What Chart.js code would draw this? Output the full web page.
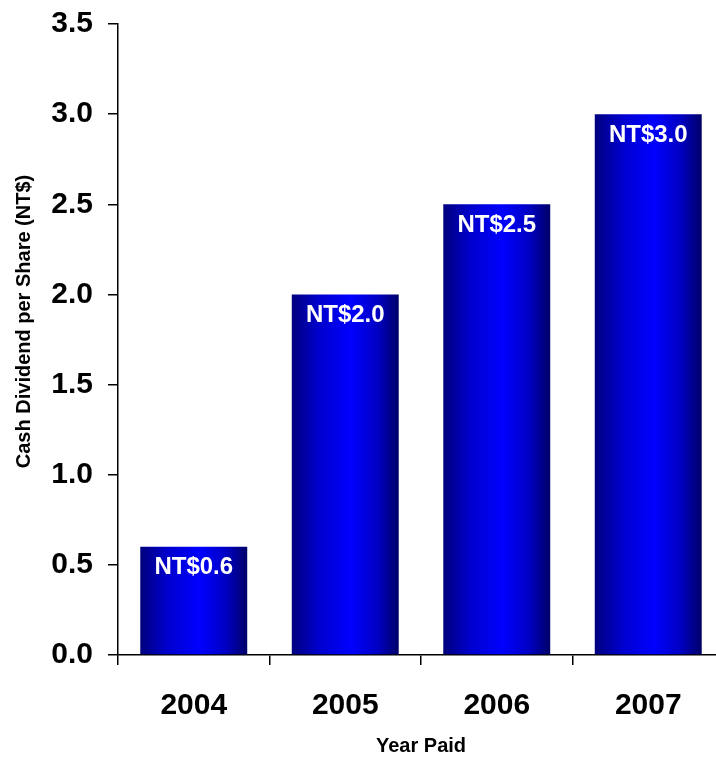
<!DOCTYPE html>
<html>
<head>
<meta charset="utf-8">
<script src="https://cdn.jsdelivr.net/npm/chart.js@4/dist/chart.umd.min.js"></script>
<style>
    html, body { margin: 0; padding: 0; background: #fff; overflow: hidden; }
    #wrap { width: 730px; height: 758px; position: relative; }
</style>
</head>
<body>
<div id="wrap"><canvas id="divChart"></canvas></div>
<script>
// Cash dividend per share (NT$) by year paid
const years = ['2004', '2005', '2006', '2007'];
const dividends = [0.6, 2.0, 2.5, 3.0];
const yMin = 0;
const yMax = 3.5;
const yStep = 0.5;
const yTitle = 'Cash Dividend per Share (NT$)';
const xTitle = 'Year Paid';

const barFrac = 0.706;
const fontFamily = '"Liberation Sans", Arial, Helvetica, sans-serif';

// horizontal navy -> blue -> navy shading on each bar
function barGradient(ctx) {
    const chart = ctx.chart;
    const xs = chart.scales.x;
    if (!xs || ctx.dataIndex === undefined) return '#0000ff';
    const cx = xs.getPixelForValue(ctx.dataIndex);
    const w = (xs.width / years.length) * barFrac;
    if (!Number.isFinite(cx) || !Number.isFinite(w) || w <= 0) return '#0000ff';
    const g = chart.ctx.createLinearGradient(cx - w / 2, 0, cx + w / 2, 0);
    g.addColorStop(0, '#00007e');
    g.addColorStop(0.25, '#0000cc');
    g.addColorStop(0.55, '#0000ff');
    g.addColorStop(0.8, '#0000c4');
    g.addColorStop(1, '#000068');
    return g;
}

// value labels inside the top of each bar + y title (sits a bit above the axis middle)
const barLabels = {
    id: 'barLabels',
    afterDatasetsDraw(chart) {
        const c = chart.ctx;
        const meta = chart.getDatasetMeta(0);
        c.save();
        c.fillStyle = '#ffffff';
        c.font = 'bold 24px ' + fontFamily;
        c.textAlign = 'center';
        c.textBaseline = 'top';
        meta.data.forEach((bar, i) => {
            c.fillText('NT$' + dividends[i].toFixed(1), bar.x, bar.y + 9);
        });
        c.restore();

        const area = chart.chartArea;
        c.save();
        c.translate(24, (area.top + area.bottom) / 2 - 18);
        c.rotate(-Math.PI / 2);
        c.fillStyle = '#000';
        c.font = 'bold 20px ' + fontFamily;
        c.textAlign = 'center';
        c.textBaseline = 'middle';
        c.fillText(yTitle, 0, 0);
        c.restore();
    }
};

function initChart() {
    const ctx = document.getElementById('divChart').getContext('2d');
    const chart = new Chart(ctx, {
        type: 'bar',
        data: {
            labels: years,
            datasets: [{
                data: dividends,
                backgroundColor: barGradient,
                borderWidth: 0,
                categoryPercentage: 1,
                barPercentage: barFrac
            }]
        },
        options: {
            responsive: true,
            maintainAspectRatio: false,
            animation: false,
            layout: { padding: { left: 0, right: 6, top: 24, bottom: 0 } },
            plugins: {
                legend: { display: false },
                tooltip: { enabled: false }
            },
            scales: {
                x: {
                    afterFit(scale) { scale.height = 103; },
                    border: { color: '#000', width: 1.5 },
                    grid: { drawOnChartArea: false, tickLength: 10, color: '#000', lineWidth: 1.5, offset: true },
                    ticks: {
                        color: '#000',
                        padding: 23,
                        font: { family: fontFamily, size: 30, weight: 'bold' }
                    },
                    title: {
                        display: true,
                        text: xTitle,
                        color: '#000',
                        padding: { top: 0, bottom: 0 },
                        font: { family: fontFamily, size: 20, weight: 'bold' }
                    }
                },
                y: {
                    min: yMin,
                    max: yMax,
                    afterFit(scale) {
                        scale.width = 118;
                        scale.paddingTop = 0;
                        scale.paddingBottom = 0;
                    },
                    border: { color: '#000', width: 1.5 },
                    grid: { drawOnChartArea: false, tickLength: 10, color: '#000', lineWidth: 1.5 },
                    ticks: {
                        stepSize: yStep,
                        color: '#000',
                        padding: 15,
                        font: { family: fontFamily, size: 30, weight: 'bold' },
                        callback: (v) => Number(v).toFixed(1)
                    },
                    title: { display: false }
                }
            }
        },
        plugins: [barLabels]
    });
    chart.update();
}

window.onload = initChart;
</script>
</body>
</html>
